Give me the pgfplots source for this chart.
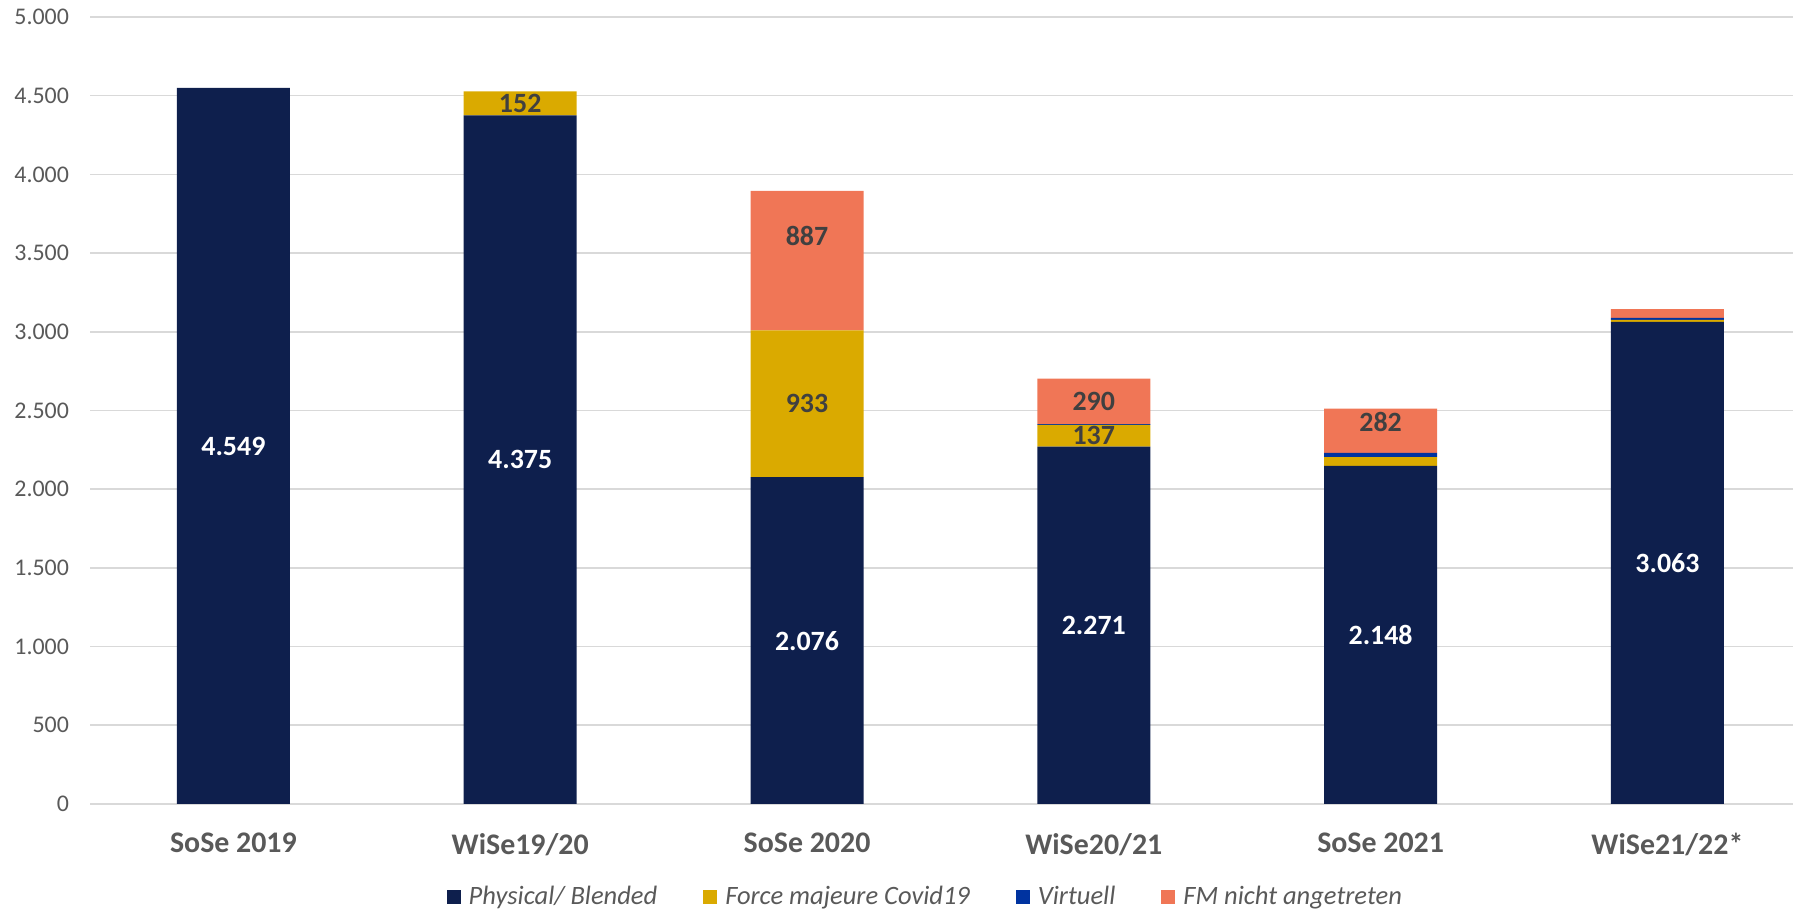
\documentclass[border=0pt]{standalone}
\usepackage{fontspec}
\setmainfont{Carlito}
\usepackage{pgfplots}
\usepackage{pgfplotstable}
\pgfplotsset{compat=1.18}
\definecolor{navy}{RGB}{14,31,77}
\definecolor{gold}{RGB}{218,170,0}
\definecolor{vblue}{RGB}{0,51,160}
\definecolor{coral}{RGB}{240,118,86}
\definecolor{tickgray}{RGB}{89,89,89}
\definecolor{labgray}{RGB}{64,64,64}
\definecolor{gridgray}{RGB}{217,217,217}
\pgfplotstableread{
x phys physl force forcel virt nicht nichtl ndy
0 4549 4.549 0 {} 0 0 {} 0
1 4375 4.375 152 152 0 0 {} 0
2 2076 2.076 933 933 0 887 887 12.5
3 2271 2.271 137 137 5 290 290 0
4 2148 2.148 55 {} 27 282 282 4.5
5 3063 3.063 13 {} 13 55 {} 0
}\data
\begin{document}
\begin{tikzpicture}
\begin{axis}[
  at={(0,0)}, anchor=south west,
  scale only axis,
  width=860.4bp, height=393.5bp,
  ybar stacked,
  bar width=56.5bp,
  xmin=-0.5, xmax=5.5,
  ymin=0, ymax=5000,
  xtick={0,1,2,3,4,5},
  xticklabels={SoSe 2019, WiSe19/20, SoSe 2020, WiSe20/21, SoSe 2021, WiSe21/22*},
  ytick={0,500,...,5000},
  ymajorgrids,
  grid style={draw=gridgray, line width=0.8bp},
  axis line style={draw=none},
  major tick length=0pt,
  /pgf/number format/.cd, fixed, 1000 sep={.}, assume math mode=true,
  /pgfplots/.cd,
  yticklabel style={font=\fontsize{12}{14}\selectfont, text=tickgray, xshift=-7bp},
  xticklabel style={font=\bfseries\fontsize{15}{18}\selectfont, text=tickgray, yshift=-11bp},
  nodes near coords style={anchor=center, font=\bfseries\fontsize{14}{16}\selectfont, text=labgray},
  legend columns=4,
  legend style={draw=none, fill=none, at={(0.486,-0.118)}, anchor=center,
    font=\itshape\fontsize{13.3}{16}\selectfont, text=tickgray,
    /tikz/every odd column/.append style={column sep=2bp},
    /tikz/every even column/.append style={column sep=21bp}},
  legend image code/.code={\path[#1] (0bp,-3.5bp) rectangle (7bp,3.5bp);},
]
\addplot[fill=navy, draw=none, nodes near coords, point meta=explicit symbolic,
  every node near coord/.append style={text=white}]
  table[x=x, y=phys, meta=physl] {\data};
\addplot[fill=gold, draw=none, nodes near coords, point meta=explicit symbolic]
  table[x=x, y=force, meta=forcel] {\data};
\addplot[fill=vblue, draw=none]
  table[x=x, y=virt] {\data};
\addplot[fill=coral, draw=none, nodes near coords, point meta=explicit symbolic,
  visualization depends on={\thisrow{ndy} \as \ndy},
  every node near coord/.append style={yshift=\ndy bp}]
  table[x=x, y=nicht, meta=nichtl] {\data};
\legend{Physical/ Blended, Force majeure Covid19, Virtuell, FM nicht angetreten}
\end{axis}
\pgfresetboundingbox
\path[use as bounding box] (-45bp,-53.5bp) rectangle (851.5bp,402bp);
\end{tikzpicture}
\end{document}
